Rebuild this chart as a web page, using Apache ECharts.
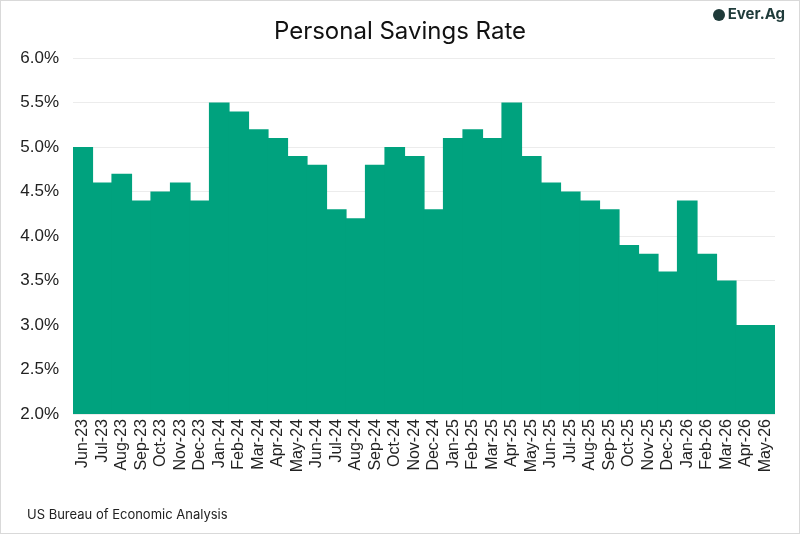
<!DOCTYPE html>
<html>
<head>
<meta charset="utf-8">
<script src="https://cdn.jsdelivr.net/npm/echarts@6/dist/echarts.min.js"></script>
<style>
  html, body { margin: 0; padding: 0; background: #fff; }
  #chart { width: 798px; height: 532px; border: 1px solid #d9d9d9; }
</style>
</head>
<body>
<div id="chart"></div>
<script>
var months = ['Jun-23','Jul-23','Aug-23','Sep-23','Oct-23','Nov-23','Dec-23',
  'Jan-24','Feb-24','Mar-24','Apr-24','May-24','Jun-24','Jul-24','Aug-24','Sep-24','Oct-24','Nov-24','Dec-24',
  'Jan-25','Feb-25','Mar-25','Apr-25','May-25','Jun-25','Jul-25','Aug-25','Sep-25','Oct-25','Nov-25','Dec-25',
  'Jan-26','Feb-26','Mar-26','Apr-26','May-26'];
var savingsRate = [5.0,4.6,4.7,4.4,4.5,4.6,4.4,
  5.5,5.4,5.2,5.1,4.9,4.8,4.3,4.2,4.8,5.0,4.9,4.3,
  5.1,5.2,5.1,5.5,4.9,4.6,4.5,4.4,4.3,3.9,3.8,3.6,
  4.4,3.8,3.5,3.0,3.0];

var myChart = echarts.init(document.getElementById('chart'));
var option = {
    animation: false,
    title: {
        text: 'Personal Savings Rate',
        left: 'center',
        top: 14,
        textStyle: { fontFamily: 'Inter', fontSize: 24, fontWeight: 'normal', color: '#111' }
    },
    graphic: [
        {
            type: 'text', right: 14, top: 6,
            style: { text: 'Ever.Ag', fontFamily: 'Inter', fontSize: 15, fontWeight: 'bold', fill: '#1f3b3a' }
        },
        {
            type: 'circle', shape: { cx: 718, cy: 14, r: 6 },
            style: { fill: '#1f3b3a' }
        },
        {
            type: 'text', left: 26, top: 508,
            style: { text: 'US Bureau of Economic Analysis', fontFamily: 'Inter', fontSize: 13, fill: '#222' }
        }
    ],
    grid: { left: 72, right: 24, top: 57, bottom: 119 },
    xAxis: {
        type: 'category',
        data: months,
        axisLine: { show: false },
        axisTick: { show: false },
        axisLabel: {
            rotate: 90, interval: 0, margin: 5,
            fontFamily: 'Liberation Sans', fontSize: 16, color: '#222'
        }
    },
    yAxis: {
        type: 'value',
        min: 2, max: 6, interval: 0.5,
        axisLabel: {
            formatter: function (v) { return v.toFixed(1) + '%'; },
            fontFamily: 'Liberation Sans', fontSize: 17, color: '#222', margin: 14
        },
        splitLine: { lineStyle: { color: '#ececec' } }
    },
    series: [{
        type: 'bar',
        data: savingsRate,
        barCategoryGap: '-6%',
        itemStyle: { color: '#00a27e' }
    }]
};
myChart.setOption(option);
</script>
</body>
</html>
